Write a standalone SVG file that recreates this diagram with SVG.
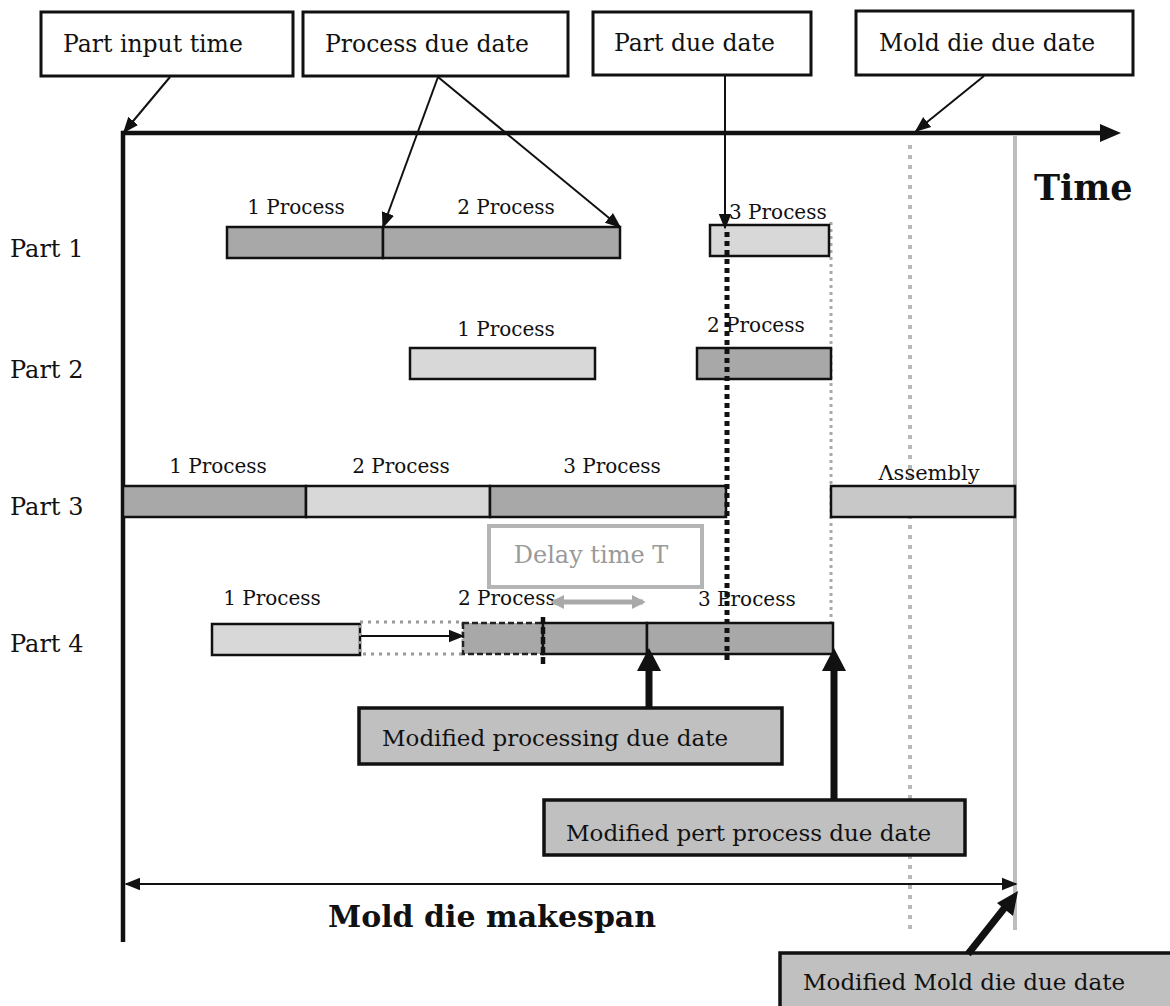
<svg xmlns="http://www.w3.org/2000/svg" width="1170" height="1006" viewBox="0 0 1170 1006">
  <style>
    text { font-family: "DejaVu Serif", "Liberation Serif", serif; fill: #111; }
    .lbl { font-size: 23.5px; }
    .row { font-size: 24px; }
    .proc { font-size: 20px; }
    .mod { font-size: 23px; }
    .big { font-weight: bold; }
    .box { fill: #fff; stroke: #111; stroke-width: 3; }
    .mbox { fill: #c0c0c0; stroke: #111; stroke-width: 3.5; }
    .dark { fill: #a8a8a8; stroke: #111; stroke-width: 2.5; }
    .light { fill: #d8d8d8; stroke: #111; stroke-width: 2.5; }
    .asm { fill: #c8c8c8; stroke: #111; stroke-width: 2.5; }
    .thin { stroke: #111; stroke-width: 2; fill: none; }
    .thick { stroke: #111; stroke-width: 7; fill: none; }
  </style>
  <defs>
    <marker id="ahs" viewBox="0 0 10 10" refX="9" refY="5" markerWidth="16" markerHeight="16" markerUnits="userSpaceOnUse" orient="auto-start-reverse">
      <path d="M0,1 L10,5 L0,9 z" fill="#111"/>
    </marker>
    <marker id="ahg" viewBox="0 0 10 10" refX="8" refY="5" markerWidth="14" markerHeight="14" markerUnits="userSpaceOnUse" orient="auto-start-reverse">
      <path d="M0,0 L10,5 L0,10 z" fill="#a9a9a9"/>
    </marker>
  </defs>

  <rect width="1170" height="1006" fill="#fff"/>

  <!-- time axes and reference lines -->
  <g id="axes">
    <line x1="123" y1="131" x2="123" y2="942" stroke="#111" stroke-width="4.5"/>
    <line x1="121" y1="133" x2="1104" y2="133" stroke="#111" stroke-width="4.5"/>
    <polygon points="1100,124 1121,133 1100,142" fill="#111"/>
    <text class="big" x="1034" y="200" style="font-size:35px">Time</text>
    <!-- original mold die due date, dotted -->
    <line x1="910" y1="145" x2="910" y2="932" stroke="#b8b8b8" stroke-width="4" stroke-dasharray="4 6"/>
    <!-- modified mold die due date, solid grey -->
    <line x1="1015" y1="136" x2="1015" y2="930" stroke="#bdbdbd" stroke-width="4"/>
    <!-- part due dates -->
    <line x1="831" y1="222" x2="831" y2="624" stroke="#a9a9a9" stroke-width="3" stroke-dasharray="3 4"/>
  </g>

  <!-- header labels -->
  <g id="label-part-input-time">
    <rect class="box" x="41" y="12" width="252" height="64"/>
    <text class="lbl" x="63" y="52">Part input time</text>
  </g>
  <g id="label-process-due-date">
    <rect class="box" x="303" y="12" width="265" height="64"/>
    <text class="lbl" x="325" y="52">Process due date</text>
  </g>
  <g id="label-part-due-date">
    <rect class="box" x="593" y="12" width="218" height="63"/>
    <text class="lbl" x="614" y="51">Part due date</text>
  </g>
  <g id="label-mold-die-due-date">
    <rect class="box" x="856" y="11" width="277" height="64"/>
    <text class="lbl" x="879" y="51">Mold die due date</text>
  </g>

  <!-- row titles -->
  <g id="row-titles">
    <text class="row" x="10" y="257">Part 1</text>
    <text class="row" x="10" y="378">Part 2</text>
    <text class="row" x="10" y="515">Part 3</text>
    <text class="row" x="10" y="652">Part 4</text>
  </g>

  <!-- Part 1 -->
  <g id="part1">
    <rect class="dark" x="227" y="227" width="156" height="31"/>
    <rect class="dark" x="383" y="227" width="237" height="31"/>
    <rect class="light" x="710" y="225" width="119" height="31"/>
    <text class="proc" x="296" y="214" text-anchor="middle">1 Process</text>
    <text class="proc" x="506" y="214" text-anchor="middle">2 Process</text>
    <text class="proc" x="729" y="219">3 Process</text>
  </g>

  <!-- Part 2 -->
  <g id="part2">
    <rect class="light" x="410" y="348" width="185" height="31"/>
    <rect class="dark" x="697" y="348" width="134" height="31"/>
    <text class="proc" x="506" y="336" text-anchor="middle">1 Process</text>
    <text class="proc" x="707" y="332">2 Process</text>
  </g>

  <!-- Part 3 -->
  <g id="part3">
    <rect class="dark" x="123" y="486" width="183" height="31"/>
    <rect class="light" x="306" y="486" width="184" height="31"/>
    <rect class="dark" x="490" y="486" width="236" height="31"/>
    <rect class="asm" x="831" y="486" width="184" height="31"/>
    <text class="proc" x="218" y="473" text-anchor="middle">1 Process</text>
    <text class="proc" x="401" y="473" text-anchor="middle">2 Process</text>
    <text class="proc" x="612" y="473" text-anchor="middle">3 Process</text>
    <text class="proc" x="929" y="480" text-anchor="middle" style="font-size:21px">Λssembly</text>
  </g>

  <!-- delay annotation -->
  <g id="delay-time">
    <rect x="489" y="526" width="213" height="61" fill="#fff" stroke="#b5b5b5" stroke-width="4"/>
    <text x="591" y="563" text-anchor="middle" style="font-size:24px;fill:#9a9a9a">Delay time T</text>
  </g>

  <!-- Part 4 -->
  <g id="part4">
    <rect class="light" x="212" y="624" width="148" height="31"/>
    <rect x="360" y="622" width="103" height="32" fill="none" stroke="#9a9a9a" stroke-width="3" stroke-dasharray="3 5"/>
    <rect x="463" y="623" width="80" height="31" fill="#a8a8a8" stroke="#222" stroke-width="2.5" stroke-dasharray="6 3"/>
    <rect class="dark" x="543" y="623" width="104" height="31"/>
    <rect class="dark" x="647" y="623" width="186" height="31"/>
    <text class="proc" x="272" y="605" text-anchor="middle">1 Process</text>
    <text class="proc" x="458" y="605">2 Process</text>
    <text class="proc" x="698" y="606">3 Process</text>
  </g>

  <!-- result labels -->
  <g id="label-modified-processing">
    <rect class="mbox" x="359" y="708" width="423" height="56"/>
    <text class="mod" x="382" y="746">Modified processing due date</text>
  </g>
  <g id="label-modified-part-process">
    <rect class="mbox" x="544" y="800" width="421" height="55"/>
    <text class="mod" x="566" y="841">Modified pert process due date</text>
  </g>
  <g id="label-modified-mold-die">
    <rect class="mbox" x="780" y="953" width="392" height="60"/>
    <text class="mod" x="803" y="990">Modified Mold die due date</text>
  </g>

  <g id="makespan">
    <text class="big" x="328" y="927" style="font-size:30px">Mold die makespan</text>
  </g>

  <!-- connectors -->
  <g id="connectors">
    <line class="thin" x1="170" y1="77" x2="124" y2="132" marker-end="url(#ahs)"/>
    <line class="thin" x1="438" y1="77" x2="383" y2="227" marker-end="url(#ahs)"/>
    <line class="thin" x1="438" y1="77" x2="620" y2="227" marker-end="url(#ahs)"/>
    <line class="thin" x1="725" y1="76" x2="725" y2="228" marker-end="url(#ahs)"/>
    <line class="thin" x1="984" y1="76" x2="916" y2="131" marker-end="url(#ahs)"/>
    <!-- part due date cut line -->
    <line x1="727" y1="232" x2="727" y2="664" stroke="#111" stroke-width="5" stroke-dasharray="5 4"/>
    <!-- processing shift of Part 4 -->
    <line class="thin" x1="361" y1="636" x2="463" y2="636" marker-end="url(#ahs)"/>
    <line x1="543" y1="617" x2="543" y2="664" stroke="#111" stroke-width="4.5" stroke-dasharray="7 3"/>
    <line x1="553" y1="602" x2="643" y2="602" stroke="#a9a9a9" stroke-width="5" marker-start="url(#ahg)" marker-end="url(#ahg)"/>
    <!-- modified due date pointers -->
    <line class="thick" x1="649" y1="708" x2="649" y2="668"/>
    <polygon points="637,671 661,671 649,648" fill="#111"/>
    <line class="thick" x1="834" y1="800" x2="834" y2="668"/>
    <polygon points="822,671 846,671 834,648" fill="#111"/>
    <!-- makespan dimension -->
    <line x1="126" y1="884" x2="1016" y2="884" stroke="#111" stroke-width="1.8" marker-start="url(#ahs)" marker-end="url(#ahs)"/>
    <line class="thick" x1="968" y1="954" x2="1006" y2="906"/>
    <polygon points="1018,891 1013,916 997,903" fill="#111"/>
  </g>
</svg>
